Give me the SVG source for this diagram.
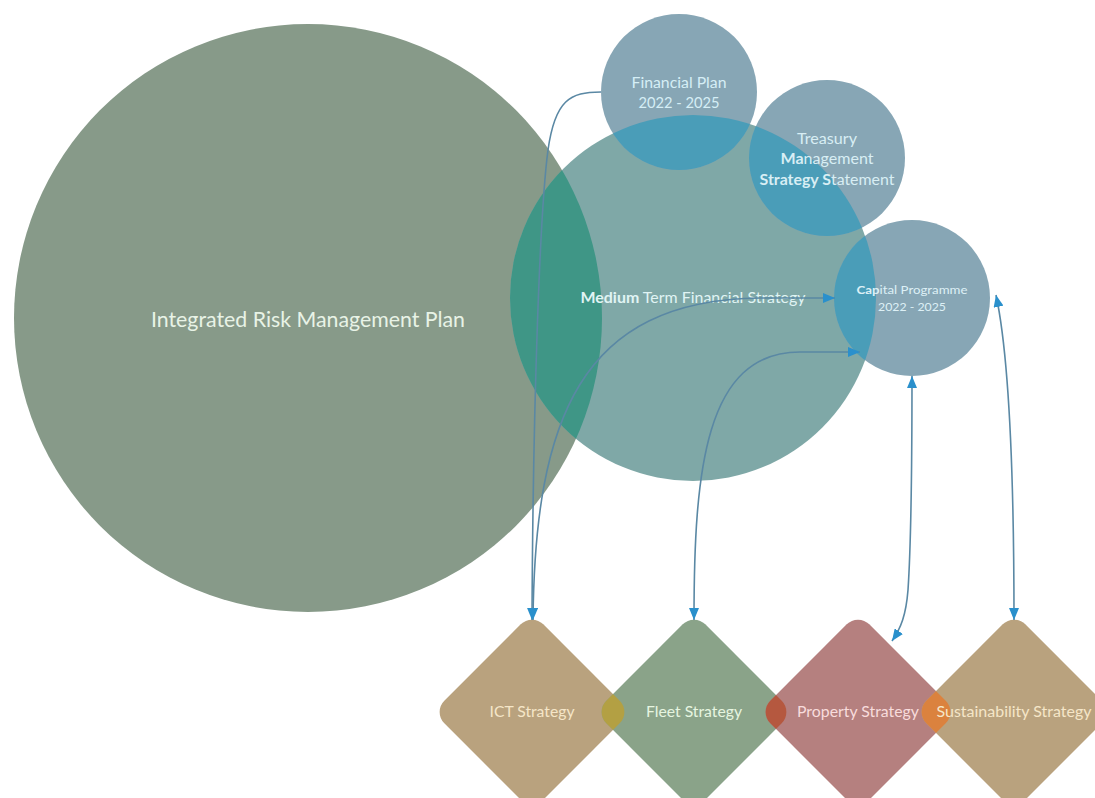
<svg xmlns="http://www.w3.org/2000/svg" width="1095" height="798" viewBox="0 0 1095 798">
<style>
text{font-family:Lato,"Open Sans","Liberation Sans",sans-serif;text-anchor:middle}
.conn{fill:none;stroke:#5A88A4;stroke-width:1.6}
.blue{fill:#87A6B5}
.b{font-weight:700}
</style>
<defs>
<marker id="arr" markerUnits="userSpaceOnUse" markerWidth="12" markerHeight="10" viewBox="0 0 12 10" refX="12" refY="5" orient="auto-start-reverse">
<path d="M0,0 L12,5 L0,10 Z" fill="#2A90CC"/>
</marker>
<clipPath id="cMTFS"><circle cx="693" cy="298" r="183"/></clipPath>
<clipPath id="cFleet"><rect x="-70" y="-70" width="140" height="140" rx="16" transform="translate(694 712) rotate(45)"/></clipPath>
<clipPath id="cProp"><rect x="-70" y="-70" width="140" height="140" rx="16" transform="translate(858 712) rotate(45)"/></clipPath>
<clipPath id="cSust"><rect x="-70" y="-70" width="140" height="140" rx="16" transform="translate(1014 712) rotate(45)"/></clipPath>
</defs>
<rect width="1095" height="798" fill="#fff"/>

<g id="irmp">
<circle cx="308" cy="318" r="294" fill="#879A89"/>
</g>
<g id="mtfs">
<circle cx="693" cy="298" r="183" fill="#7FA8A7"/>
</g>
<g id="overlaps">
<circle cx="308" cy="318" r="294" fill="#3F9686" clip-path="url(#cMTFS)"/>
</g>
<g id="financial-plan">
<circle cx="679" cy="92" r="78" class="blue"/>
<circle cx="679" cy="92" r="78" fill="#4A9DB8" clip-path="url(#cMTFS)"/>
<text x="679" y="88" font-size="14.5" fill="#D5EEF6" textLength="95" lengthAdjust="spacingAndGlyphs">Financial Plan</text>
<text x="679" y="108" font-size="14.5" fill="#D5EEF6" textLength="81" lengthAdjust="spacingAndGlyphs">2022 - 2025</text>
</g>
<g id="treasury">
<circle cx="827" cy="158" r="78" class="blue"/>
<circle cx="827" cy="158" r="78" fill="#4A9DB8" clip-path="url(#cMTFS)"/>
<text x="827" y="144" font-size="14.5" fill="#D8EEF4" textLength="60" lengthAdjust="spacingAndGlyphs">Treasury</text>
<text x="827" y="164" font-size="14.5" fill="#D8EEF4" textLength="93" lengthAdjust="spacingAndGlyphs"><tspan class="b">Ma</tspan>nagement</text>
<text x="827" y="185" font-size="14.5" fill="#D8EEF4" textLength="135" lengthAdjust="spacingAndGlyphs"><tspan class="b">Strategy S</tspan>tatement</text>
</g>
<g id="capital">
<circle cx="912" cy="298" r="78" class="blue"/>
<circle cx="912" cy="298" r="78" fill="#4A9DB8" clip-path="url(#cMTFS)"/>
<text x="912" y="294" font-size="12" fill="#DDF0F6" textLength="111" lengthAdjust="spacingAndGlyphs"><tspan class="b">Cap</tspan>ital Programme</text>
<text x="912" y="311" font-size="12" fill="#DDF0F6" textLength="68" lengthAdjust="spacingAndGlyphs">2022 - 2025</text>
</g>
<g id="irmp-label">
<text x="308" y="327" font-size="21" fill="#E8F3E6" textLength="314" lengthAdjust="spacingAndGlyphs">Integrated Risk Management Plan</text>
</g>
<g id="mtfs-label">
<text x="693" y="303" font-size="15" fill="#E0F4F4" textLength="225" lengthAdjust="spacingAndGlyphs"><tspan class="b">Medium</tspan> Term Financial Strategy</text>
</g>

<g id="ict">
<rect x="-70" y="-70" width="140" height="140" rx="16" transform="translate(532 712) rotate(45)" fill="#B9A27E"/>
</g>
<g id="fleet">
<rect x="-70" y="-70" width="140" height="140" rx="16" transform="translate(694 712) rotate(45)" fill="#8AA389"/>
</g>
<g id="property">
<rect x="-70" y="-70" width="140" height="140" rx="16" transform="translate(858 712) rotate(45)" fill="#B5807F"/>
</g>
<g id="sustainability">
<rect x="-70" y="-70" width="140" height="140" rx="16" transform="translate(1014 712) rotate(45)" fill="#B9A27E"/>
</g>
<g id="diamond-overlaps">
<g clip-path="url(#cFleet)"><rect x="-70" y="-70" width="140" height="140" rx="16" transform="translate(532 712) rotate(45)" fill="#B3A043"/></g>
<g clip-path="url(#cProp)"><rect x="-70" y="-70" width="140" height="140" rx="16" transform="translate(694 712) rotate(45)" fill="#B5583F"/></g>
<g clip-path="url(#cSust)"><rect x="-70" y="-70" width="140" height="140" rx="16" transform="translate(858 712) rotate(45)" fill="#DB823E"/></g>
</g>
<g id="diamond-labels">
<text x="532" y="717" font-size="15" fill="#F5E6C8" textLength="85" lengthAdjust="spacingAndGlyphs">ICT Strategy</text>
<text x="694" y="717" font-size="15" fill="#E6F5E0" textLength="96" lengthAdjust="spacingAndGlyphs">Fleet Strategy</text>
<text x="858" y="717" font-size="15" fill="#F8DCDC" textLength="122" lengthAdjust="spacingAndGlyphs">Property Strategy</text>
<text x="1014" y="717" font-size="15" fill="#F5E6C8" textLength="155" lengthAdjust="spacingAndGlyphs">Sustainability Strategy</text>
</g>

<g id="connectors">
<path class="conn" d="M601,92 C570,92 555,100 548,150 C540,210 533,400 532,620" marker-end="url(#arr)"/>
<path class="conn" d="M533,620 C535,420 580,300 760,298 L835,298" marker-start="url(#arr)" marker-end="url(#arr)"/>
<path class="conn" d="M694,620 C694,470 705,352 800,352 L860,352" marker-start="url(#arr)" marker-end="url(#arr)"/>
<path class="conn" d="M912,376 C912,500 910,560 908,590 C906,615 901,628 892,641" marker-start="url(#arr)" marker-end="url(#arr)"/>
<path class="conn" d="M1014,620 C1014,480 1010,360 996,295" marker-start="url(#arr)" marker-end="url(#arr)"/>
</g>
</svg>
